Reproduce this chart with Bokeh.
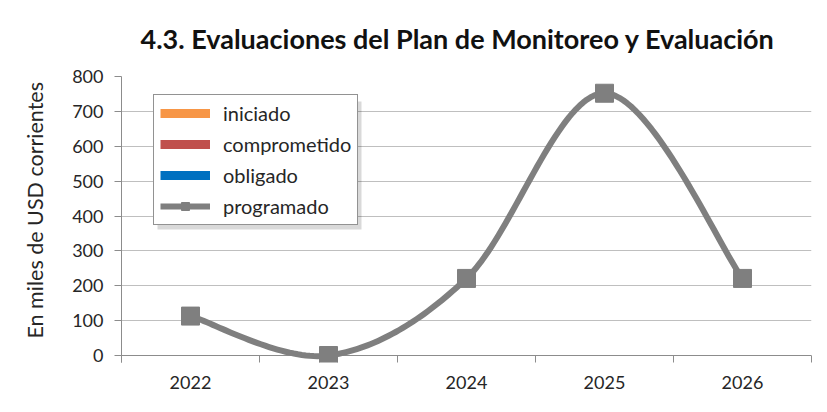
import numpy as np
from bokeh.plotting import figure
from bokeh.models import FixedTicker, Legend, LegendItem, Range1d, Title, BoxAnnotation, Span
from bokeh.embed import file_html
from bokeh.resources import INLINE

# ---- data ----
years = ["2022", "2023", "2024", "2025", "2026"]
programado = [113, 0, 221, 752, 221]
y_ticks = [0, 100, 200, 300, 400, 500, 600, 700, 800]
legend_labels = ["iniciado", "comprometido", "obligado", "programado"]
legend_colors = ["#F79646", "#C0504D", "#0070C0"]
title_text = "4.3. Evaluaciones del Plan de Monitoreo  y Evaluación"
y_label = "En miles de USD corrientes"

FONT = "Lato"
GRAY = "#7F7F7F"
AXIS = "#8C8C8C"
TXT = "#262626"

xs = np.arange(1, len(years) + 1, dtype=float)
ys = np.array(programado, dtype=float)


def smooth(xv, yv, n=40):
    """Excel-like smoothed line (Catmull-Rom Bezier) through the data points."""
    pts = np.column_stack([xv, yv])
    out = []
    m = len(pts)
    for i in range(m - 1):
        p0 = pts[max(i - 1, 0)]
        p1 = pts[i]
        p2 = pts[i + 1]
        p3 = pts[min(i + 2, m - 1)]
        c1 = p1 + (p2 - p0) / 6.0
        c2 = p2 - (p3 - p1) / 6.0
        t = np.linspace(0, 1, n)[:, None]
        seg = ((1 - t) ** 3) * p1 + 3 * ((1 - t) ** 2) * t * c1 + 3 * (1 - t) * t ** 2 * c2 + t ** 3 * p2
        out.append(seg if i == 0 else seg[1:])
    a = np.vstack(out)
    return a[:, 0], a[:, 1]


sx, sy = smooth(xs, ys)

# frame: 800 at y=76, 0 at y=355 -> extend 7px below zero so markers on 0 are not cut
ppu = (355 - 76) / (y_ticks[-1] - y_ticks[0])
ext = 7 / ppu
W, H = 819, 412
p = figure(width=W, height=H, output_backend="svg", toolbar_location=None,
           x_range=Range1d(0.5, len(years) + 0.5), y_range=Range1d(y_ticks[0] - ext, y_ticks[-1]),
           min_border_left=121, min_border_right=W - 811, min_border_top=76, min_border_bottom=H - 362)
p.outline_line_color = None
p.background_fill_color = "white"
p.border_fill_color = "white"

p.title.text = title_text
p.title.text_font = FONT
p.title.text_font_size = "27px"
p.title.text_font_style = "bold"
p.title.text_color = "#111111"
p.title.align = "left"
p.title.vertical_align = "top"
p.title.offset = 19
p.title.standoff = 40

# y-axis title as a vertical Title on the left (offset from the frame bottom)
ytitle = Title(text=y_label, align="left", vertical_align="top", offset=24, standoff=39,
               text_font=FONT, text_font_size="21.5px", text_font_style="normal",
               text_color=TXT)
p.add_layout(ytitle, "left")

# x axis: line drawn as a span at 0, ticks reach from frame bottom up to 0
p.xaxis.ticker = FixedTicker(ticks=list(xs), minor_ticks=list(np.arange(0.5, len(years) + 1, 1.0)))
p.xaxis.major_label_overrides = {float(x): y for x, y in zip(xs, years)}
p.xaxis.major_tick_out = 0
p.xaxis.major_tick_in = 0
p.xaxis.minor_tick_out = 0
p.xaxis.minor_tick_in = 7
p.xaxis.major_label_standoff = 13
p.xaxis.axis_line_color = None
p.xaxis.minor_tick_line_color = AXIS
zero_line = Span(location=0, dimension="width", line_color=AXIS, line_width=1, level="underlay")
p.add_layout(zero_line)

p.yaxis.ticker = FixedTicker(ticks=y_ticks, minor_ticks=[])
p.yaxis.major_tick_out = 7
p.yaxis.major_tick_in = 0
p.yaxis.major_label_standoff = 11
p.yaxis.axis_line_color = AXIS
p.yaxis.major_tick_line_color = AXIS

for ax in (p.xaxis, p.yaxis):
    ax.major_label_text_font = FONT
    ax.major_label_text_font_size = "18px"
    ax.major_label_text_color = TXT

p.xgrid.grid_line_color = None
p.ygrid.grid_line_color = "#BFBFBF"
p.ygrid.grid_line_width = 1

# legend-only renderers (off-range data so only the legend swatch shows)
bar_renderers = []
for col in legend_colors:
    r = p.line(x=[-10, -9], y=[-1000, -1000], line_color=col, line_width=9, line_cap="butt")
    bar_renderers.append(r)

curve = p.line(sx, sy, line_color=GRAY, line_width=6, line_join="round")
marks = p.scatter(xs, ys, marker="square", size=18, fill_color=GRAY, line_color=GRAY)

# soft shadow behind the legend box
shadow = BoxAnnotation(left=36, right=240, bottom=133, top=261,
                       left_units="screen", right_units="screen",
                       bottom_units="screen", top_units="screen",
                       fill_color="#000000", fill_alpha=0.15, line_color=None)
p.add_layout(shadow)

items = [LegendItem(label=l, renderers=[r]) for l, r in zip(legend_labels[:3], bar_renderers)]
items.append(LegendItem(label=legend_labels[3], renderers=[curve, marks]))

legend = Legend(items=items, location=(32, 137), orientation="vertical")
legend.label_text_font = FONT
legend.label_text_font_size = "20px"
legend.label_text_color = TXT
legend.glyph_width = 50
legend.glyph_height = 20
legend.label_height = 20
legend.label_standoff = 13
legend.spacing = 7
legend.padding = 6
legend.margin = 0
legend.border_line_color = "#262626"
legend.border_line_width = 1
legend.background_fill_color = "white"
legend.background_fill_alpha = 1
p.add_layout(legend, "center")

open("out.html", "w").write(file_html(p, INLINE))
